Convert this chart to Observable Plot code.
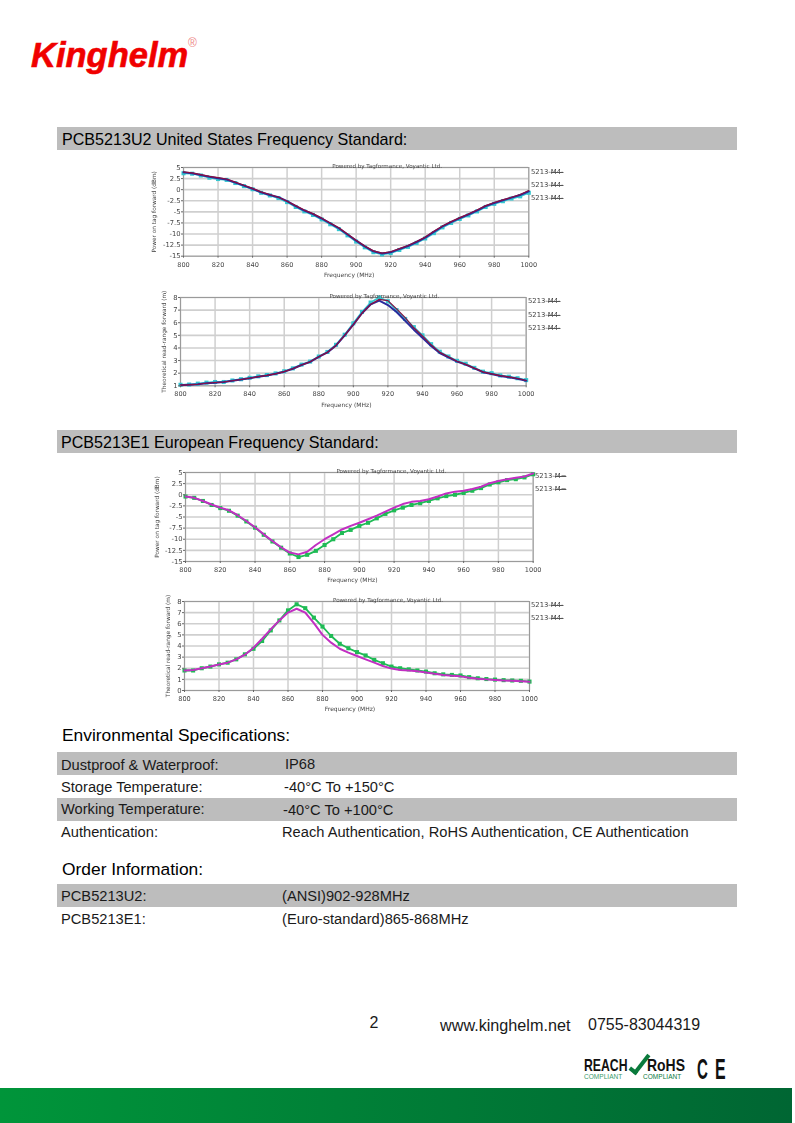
<!DOCTYPE html>
<html><head><meta charset="utf-8">
<script src="https://cdn.jsdelivr.net/npm/d3@7"></script>
<script src="https://cdn.jsdelivr.net/npm/@observablehq/plot@0.6"></script>
<style>
html,body{margin:0;padding:0;background:#fff;}
#page{position:relative;width:795px;height:1123px;overflow:hidden;font-family:"Liberation Sans",Arial,sans-serif;color:#1a1a1a;}
.t{position:absolute;white-space:nowrap;transform:translateY(-50%);line-height:1;}
.b{position:absolute;background:#bdbdbd;left:57px;width:680px;}
.c{position:absolute;filter:blur(.35px);}
.c svg{display:block;overflow:visible;background:transparent;}
.l{position:absolute;white-space:nowrap;font:6.8px "DejaVu Sans",sans-serif;color:#444;transform:translateY(-50%);filter:blur(.25px);}
.l span{text-decoration:line-through;}
</style></head><body><div id="page"></div>
<script>
const freq=[800,805,810,815,820,825,830,835,840,845,850,855,860,865,870,875,880,885,890,895,900,905,910,915,920,925,930,935,940,945,950,955,960,965,970,975,980,985,990,995,1000];

const usPowerCyan=[3.7,3.6,3.2,2.7,2.4,2.2,1.5,0.8,0.1,-0.7,-1.3,-1.9,-2.8,-3.9,-4.9,-5.7,-6.7,-7.8,-8.9,-10.3,-11.7,-13,-14.1,-14.6,-14.3,-13.6,-12.9,-12,-11,-9.8,-8.5,-7.5,-6.6,-5.8,-4.9,-3.9,-3.2,-2.6,-2,-1.5,-0.7];
const usPowerBlue=[3.9,3.7,3.3,2.9,2.6,2.3,1.6,0.9,0.2,-0.6,-1.2,-1.7,-2.6,-3.7,-4.7,-5.5,-6.5,-7.6,-8.7,-10.1,-11.5,-12.8,-13.9,-14.4,-14.1,-13.4,-12.7,-11.8,-10.8,-9.5,-8.3,-7.3,-6.4,-5.6,-4.7,-3.7,-3,-2.4,-1.8,-1.2,-0.4];
const usPowerRed=[4,3.8,3.4,3,2.7,2.4,1.7,1,0.3,-0.5,-1.1,-1.7,-2.6,-3.6,-4.6,-5.4,-6.4,-7.5,-8.6,-10,-11.4,-12.7,-13.8,-14.3,-14,-13.3,-12.6,-11.7,-10.7,-9.4,-8.2,-7.2,-6.3,-5.5,-4.6,-3.6,-2.9,-2.3,-1.7,-1.1,-0.2];

const usRangeCyan=[1.08,1.1,1.17,1.25,1.3,1.3,1.42,1.52,1.63,1.75,1.85,1.98,2.15,2.38,2.68,2.92,3.32,3.68,4.25,5.05,5.95,6.85,7.6,8,7.7,7,6.3,5.65,5,4.3,3.7,3.32,2.98,2.75,2.42,2.12,2,1.82,1.72,1.6,1.45];
const usRangeBlue=[1.05,1.08,1.12,1.2,1.25,1.3,1.4,1.5,1.6,1.72,1.82,1.95,2.12,2.35,2.65,2.9,3.3,3.65,4.2,5,5.85,6.75,7.45,7.75,7.4,6.85,6.15,5.45,4.8,4.15,3.6,3.25,2.92,2.68,2.38,2.08,1.93,1.78,1.68,1.56,1.4];
const usRangeRed=[1.05,1.08,1.12,1.2,1.26,1.3,1.4,1.5,1.6,1.72,1.82,1.95,2.12,2.35,2.65,2.9,3.3,3.65,4.2,5,5.85,6.75,7.45,7.85,7.75,7.1,6.4,5.6,4.95,4.25,3.65,3.3,2.95,2.7,2.4,2.1,1.95,1.8,1.7,1.58,1.42];

const euPowerGreen=[-0.4,-0.7,-1.4,-2.3,-3,-3.6,-4.7,-6,-7.4,-9,-10.5,-11.9,-13.2,-14,-13.5,-12.6,-11.3,-10,-8.6,-7.9,-7,-6.3,-5.3,-4.3,-3.5,-2.9,-2.3,-1.9,-1.4,-0.8,-0.3,0,0.4,0.9,1.5,2.3,2.8,3.3,3.5,3.9,4.6];
const euPowerMagenta=[-0.4,-0.7,-1.4,-2.2,-2.9,-3.5,-4.6,-5.9,-7.3,-8.9,-10.4,-11.8,-13,-13.4,-12.8,-11.3,-10,-8.9,-7.8,-7,-6.3,-5.5,-4.7,-3.8,-2.9,-2.1,-1.6,-1.4,-1,-0.4,0.3,0.7,0.9,1.3,1.8,2.6,3.1,3.5,3.8,4.1,4.8];

const euRangeGreen=[1.8,1.8,2,2.15,2.35,2.5,2.8,3.25,3.75,4.45,5.4,6.3,7.2,7.75,7.4,6.55,5.75,4.9,4.2,3.8,3.45,3.15,2.75,2.45,2.15,2,1.9,1.8,1.7,1.55,1.45,1.4,1.35,1.2,1.1,1.03,0.98,0.93,0.9,0.87,0.8];
const euRangeMagenta=[1.8,1.85,2,2.15,2.33,2.5,2.8,3.22,3.85,4.65,5.5,6.3,7,7.35,7,6.05,5,4.3,3.75,3.4,3.1,2.8,2.5,2.2,1.97,1.85,1.8,1.72,1.62,1.5,1.4,1.33,1.27,1.15,1.05,1,0.95,0.9,0.87,0.84,0.78];

const xTicks=[800,820,840,860,880,900,920,940,960,980,1000];
const powerTicks=[-15,-12.5,-10,-7.5,-5,-2.5,0,2.5,5];
const usRangeTicks=[1,2,3,4,5,6,7,8];
const euRangeTicks=[0,1,2,3,4,5,6,7,8];
const powerLabel="Power on tag forward (dBm)";
const rangeLabel="Theoretical read-range forward (m)";
const xLabel="Frequency (MHz)";
const credit="Powered by Tagformance, Voyantic Ltd.";
const cyan="#35c6cf",blue="#2a2a9c",red="#8a1040",green="#1fbb55",magenta="#c22fc2";

const page=document.getElementById("page");
function el(cls,css,html){const d=document.createElement("div");d.className=cls;Object.assign(d.style,css);if(html!==undefined)d.innerHTML=html;page.appendChild(d);return d;}
function text(x,y,s,size,extra){return el("t",Object.assign({left:x+"px",top:y+"px",fontSize:size+"px"},extra||{}),s);}
function band(y,h){el("b",{top:y+"px",height:h+"px"});}

function chart(o){
  const ml=40,mr=6,mt=8,mb=24;
  const rows=freq.map((f,i)=>({f,i}));
  const marks=[
    Plot.gridX(xTicks,{stroke:"#cfcfcf",strokeOpacity:1,strokeWidth:1.5}),
    Plot.gridY(o.yTicks,{stroke:"#cfcfcf",strokeOpacity:1,strokeWidth:1.6}),
    Plot.frame({stroke:"#9a9a9a",strokeWidth:1})
  ];
  o.series.forEach(s=>{
    marks.push(Plot.line(rows,{x:"f",y:d=>s.v[d.i],stroke:s.c,strokeWidth:s.w,curve:"linear"}));
    if(s.dots)marks.push(Plot.dot(rows,{x:"f",y:d=>s.v[d.i],symbol:"square",r:2.3,fill:s.c}));
  });
  marks.push(
    Plot.axisX(xTicks,{anchor:"bottom",tickSize:2,tickPadding:4,fontSize:6.6,stroke:"#666",fill:"#444",tickFormat:String,label:null}),
    Plot.axisY(o.yTicks,{anchor:"left",tickSize:2,tickPadding:1,fontSize:6.8,stroke:"#666",fill:"#444",tickFormat:String,label:null}),
    Plot.text([xLabel],{text:d=>d,frameAnchor:"bottom",lineAnchor:"middle",dy:19,dx:-7,fontSize:6,fill:"#444"}),
    Plot.text([o.yLabel],{text:d=>d,frameAnchor:"left",dx:-o.labelOffset,rotate:-90,fontSize:5.8,fill:"#444",lineAnchor:"middle",textAnchor:"middle"}),
    Plot.text([credit],{text:d=>d,frameAnchor:"top",lineAnchor:"middle",dx:o.creditDx,dy:-1.5,fontSize:5.6,fill:"#444"})
  );
  const svg=Plot.plot({width:o.w+ml+mr,height:o.h+mt+mb,marginLeft:ml,marginRight:mr,marginTop:mt,marginBottom:mb,
    style:{fontFamily:'"DejaVu Sans",sans-serif',background:"transparent",overflow:"visible"},
    x:{domain:[800,1000]},y:{domain:o.yDomain},marks});
  const c=el("c",{left:(o.x-ml)+"px",top:(o.y-mt)+"px"});c.appendChild(svg);
  o.series.forEach((s,i)=>{
    el("l",{left:o.legendX+"px",top:o.legendY[i]+"px"},'5213-<span style="text-decoration-color:#555">'+o.legendTail+'</span>');
  });
}

/* logo */
text(31,55,"Kinghelm",34.5,{fontWeight:"bold",fontStyle:"italic",color:"#f00000",WebkitTextStroke:".6px #f00000"});
text(188,43,"®",12,{color:"#e88"});

/* section bands */
band(127,23);band(430,23);band(752,23);band(798,23);band(884,23);
text(62,139,"PCB5213U2 United States Frequency Standard:",16.1,{color:"#000"});
text(61,442,"PCB5213E1 European Frequency Standard:",16.1,{color:"#000"});

chart({x:182.7,y:167,w:345.3,h:88.7,yDomain:[-15,5],yTicks:powerTicks,yLabel:powerLabel,labelOffset:29,creditDx:31,
  series:[{v:usPowerCyan,c:cyan,w:1.8,dots:true},{v:usPowerBlue,c:blue,w:2},{v:usPowerRed,c:red,w:1.2}],
  legendX:531,legendY:[172,185,198],legendTail:"M4-"});
chart({x:180,y:296.7,w:345.7,h:88.3,yDomain:[1,8],yTicks:usRangeTicks,yLabel:rangeLabel,labelOffset:16,creditDx:31,
  series:[{v:usRangeCyan,c:cyan,w:1.8,dots:true},{v:usRangeBlue,c:blue,w:2},{v:usRangeRed,c:red,w:1.2}],
  legendX:528,legendY:[301,315,328],legendTail:"M4-"});
chart({x:185,y:472,w:347.7,h:89,yDomain:[-15,5],yTicks:powerTicks,yLabel:powerLabel,labelOffset:28,creditDx:32,
  series:[{v:euPowerGreen,c:green,w:1.8,dots:true},{v:euPowerMagenta,c:magenta,w:2}],
  legendX:535,legendY:[476,489],legendTail:"M="});
chart({x:184,y:601,w:345,h:89,yDomain:[0,8],yTicks:euRangeTicks,yLabel:rangeLabel,labelOffset:16,creditDx:31,
  series:[{v:euRangeGreen,c:green,w:1.8,dots:true},{v:euRangeMagenta,c:magenta,w:2}],
  legendX:531,legendY:[605,618],legendTail:"M4-"});

/* tables */
text(62,736,"Environmental Specifications:",17.4,{color:"#000"});
text(61,764.5,"Dustproof &amp; Waterproof:",14.67);text(285,763.5,"IP68",14.67);
text(61,786.5,"Storage Temperature:",14.67);text(284,786.5,"-40°C To +150°C",14.67);
text(61,808.5,"Working Temperature:",14.67);text(283,809.5,"-40°C To +100°C",14.67);
text(61,831.5,"Authentication:",14.67);text(282,831.5,"Reach Authentication, RoHS Authentication, CE Authentication",14.67);
text(62,870,"Order Information:",17.4,{color:"#000"});
text(61,895.5,"PCB5213U2:",14.67);text(282,895.5,"(ANSI)902-928MHz",14.67);
text(61,918.5,"PCB5213E1:",14.67);text(282,918.5,"(Euro-standard)865-868MHz",14.67);

/* footer */
text(369.5,1023,"2",16);
text(440,1024.5,"www.kinghelm.net",16.2);
text(588,1024.5,"0755-83044319",16);
const cond={fontWeight:"bold",color:"#111",transformOrigin:"0 50%"};
text(584,1064.5,"REACH",17,Object.assign({},cond,{transform:"translateY(-50%) scaleX(.72)"}));
text(584,1076.5,"COMPLIANT",6.5,{color:"#3a9a6a",letterSpacing:".05px"});
el("x",{position:"absolute",left:"635px",top:"1051px",width:"9px",height:"24px",borderRight:"4px solid #0a7a3c",borderBottom:"4px solid #0a7a3c",transform:"rotate(38deg)",boxSizing:"border-box"});
text(647,1064.5,"RoHS",17,Object.assign({},cond,{transform:"translateY(-50%) scaleX(.82)"}));
text(643,1076.5,"COMPLIANT",6.5,{color:"#0a7a3c",letterSpacing:".05px"});
text(697,1068.5,"C",29,Object.assign({},cond,{transform:"translateY(-50%) scaleX(.52)"}));
text(715,1068.5,"E",29,Object.assign({},cond,{transform:"translateY(-50%) scaleX(.55)"}));
el("x",{position:"absolute",left:0,top:"1088px",width:"792px",height:"35px",background:"linear-gradient(90deg,#00953a,#006633)"});
</script></body></html>
